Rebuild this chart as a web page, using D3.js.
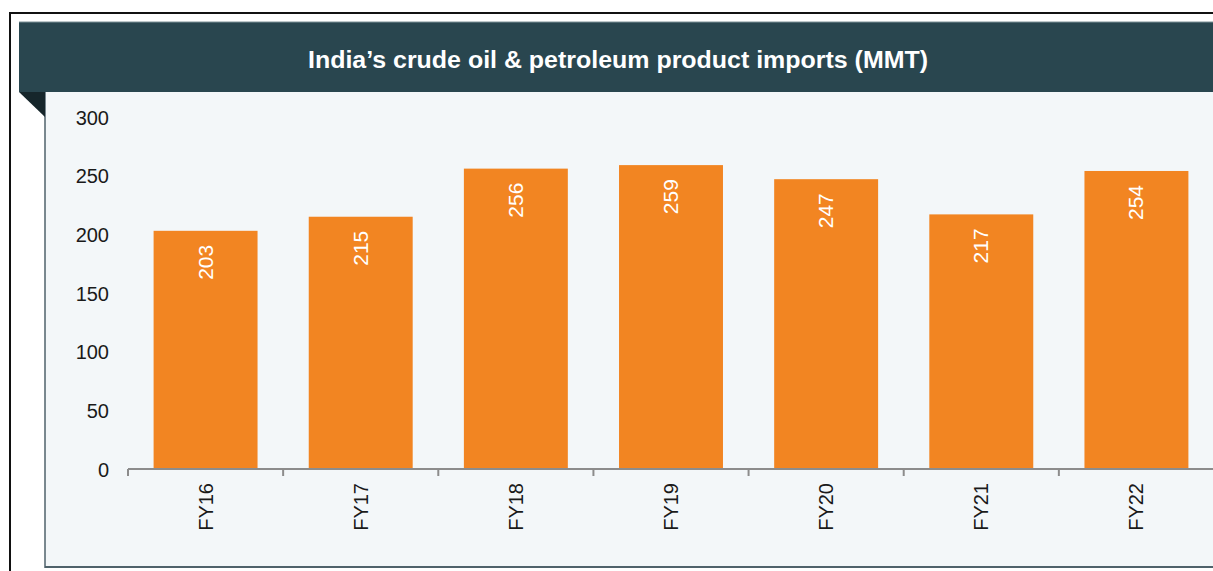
<!DOCTYPE html>
<html>
<head>
<meta charset="utf-8">
<script src="https://cdn.jsdelivr.net/npm/d3@7"></script>
<style>
  html, body { margin: 0; padding: 0; background: #ffffff; }
  svg { display: block; }
</style>
</head>
<body>
<svg id="chart" width="1213" height="571"></svg>
<script>
const categories = ["FY16", "FY17", "FY18", "FY19", "FY20", "FY21", "FY22"];
const imports = [203, 215, 256, 259, 247, 217, 254];
const yTicks = [0, 50, 100, 150, 200, 250, 300];
const title = "India\u2019s crude oil & petroleum product imports (MMT)";

const svg = d3.select("#chart");
const W = 1213, H = 571;

// outer black frame
svg.append("rect").attr("x", 10).attr("y", 13).attr("width", W + 20).attr("height", H + 20)
  .attr("fill", "#ffffff").attr("stroke", "#111111").attr("stroke-width", 2);

// inner light panel
svg.append("rect").attr("x", 45).attr("y", 92).attr("width", W).attr("height", 475)
  .attr("fill", "#f3f7f9");
svg.append("line").attr("x1", 45).attr("x2", 45).attr("y1", 92).attr("y2", 568)
  .attr("stroke", "#4f626b").attr("stroke-width", 1.5);
svg.append("line").attr("x1", 45).attr("x2", W).attr("y1", 567).attr("y2", 567)
  .attr("stroke", "#4f626b").attr("stroke-width", 2);

// title bar
svg.append("rect").attr("x", 19).attr("y", 22).attr("width", W).attr("height", 70)
  .attr("fill", "#29464f");
svg.append("line").attr("x1", 19).attr("x2", W).attr("y1", 22).attr("y2", 22)
  .attr("stroke", "#7c9097").attr("stroke-width", 1);
// folded corner
svg.append("path").attr("d", "M19,92 L45,92 L45,117 Z").attr("fill", "#16262b");

svg.append("text").attr("x", 618).attr("y", 68)
  .attr("text-anchor", "middle")
  .attr("font-family", "Liberation Sans, Arial, sans-serif")
  .attr("font-weight", "bold").attr("font-size", 23)
  .attr("textLength", 620).attr("lengthAdjust", "spacingAndGlyphs")
  .attr("fill", "#ffffff").text(title);

// scales
const x = d3.scaleBand().domain(categories).range([128, 1214]).paddingInner(0.33).paddingOuter(0.165);
const y = d3.scaleLinear().domain([0, 300]).range([469, 117]);

// y axis labels
const yAxis = d3.axisLeft(y).tickValues(yTicks).tickSize(0).tickPadding(0);
const yg = svg.append("g").attr("transform", "translate(109,0)").call(yAxis);
yg.select(".domain").remove();
yg.selectAll("text").attr("font-family", "Liberation Sans, Arial, sans-serif")
  .attr("font-size", 20).attr("fill", "#1a1a1a").attr("dy", "0.35em").attr("x", 0);

// bars
svg.append("g").selectAll("rect").data(categories).join("rect")
  .attr("x", d => x(d))
  .attr("y", (d, i) => y(imports[i]))
  .attr("width", x.bandwidth())
  .attr("height", (d, i) => y(0) - y(imports[i]))
  .attr("fill", "#f28522");

// value labels
svg.append("g").selectAll("text").data(categories).join("text")
  .attr("transform", (d, i) => `translate(${x(d) + x.bandwidth() / 2 + 7},${y(imports[i]) + 14}) rotate(-90)`)
  .attr("text-anchor", "end")
  .attr("font-family", "Liberation Sans, Arial, sans-serif")
  .attr("font-size", 21).attr("fill", "#ffffff")
  .text((d, i) => imports[i]);

// x axis with ticks at band boundaries
const step = x.step();
const xStart = 128;
const xg = svg.append("g");
xg.append("line").attr("x1", xStart).attr("x2", W).attr("y1", 469).attr("y2", 469)
  .attr("stroke", "#8c8c8c").attr("stroke-width", 2);
xg.selectAll("line.tick").data(d3.range(categories.length + 1)).join("line")
  .attr("class", "tick")
  .attr("x1", i => xStart + i * step).attr("x2", i => xStart + i * step)
  .attr("y1", 469).attr("y2", 476)
  .attr("stroke", "#8c8c8c").attr("stroke-width", 2);
xg.selectAll("text").data(categories).join("text")
  .attr("transform", d => `translate(${x(d) + x.bandwidth() / 2 + 7},483) rotate(-90)`)
  .attr("text-anchor", "end")
  .attr("font-family", "Liberation Sans, Arial, sans-serif")
  .attr("font-size", 20).attr("fill", "#1a1a1a")
  .text(d => d);
</script>
</body>
</html>
